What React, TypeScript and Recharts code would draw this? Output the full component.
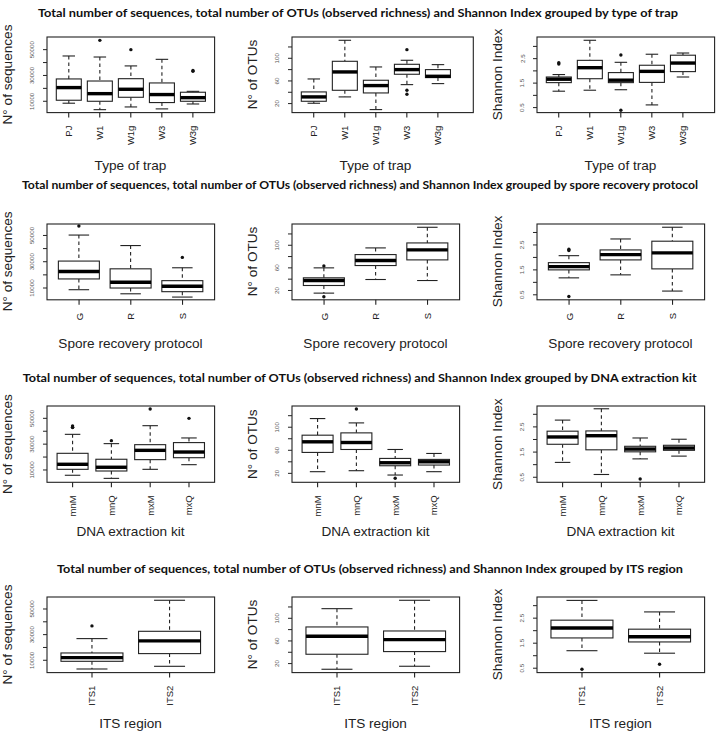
import React from "react";
import { ComposedChart, Bar, XAxis, YAxis } from "recharts";

// ---------- categories ----------
const trapCats = ["PJ", "W1", "W1g", "W3", "W3g"];
const protoCats = ["G", "R", "S"];
const kitCats = ["mnM", "mnQ", "mxM", "mxQ"];
const itsCats = ["ITS1", "ITS2"];

// ---------- stats: [lowWhisker, Q1, median, Q3, highWhisker] ----------
const trapSeq = [
  [8500, 10800, 20600, 27300, 45100],
  [3500, 10000, 15900, 25700, 44300],
  [5600, 13100, 19300, 27500, 37400],
  [4100, 9000, 15200, 24200, 42500],
  [7900, 10000, 12800, 17000, 17700],
];
const trapSeqOut = [[], [57200], [50000], [], [33200, 33800]];

const trapOtu = [
  [20.6, 24.1, 31.8, 40.6, 63.5],
  [31.8, 43.5, 75.9, 94.7, 131.8],
  [9.4, 38.8, 51.8, 61.2, 84.7],
  [53.5, 71.8, 80, 89.4, 96.5],
  [55.3, 65.9, 68.2, 80, 88.8],
];
const trapOtuOut = [[], [], [], [115.3, 43.5, 36.5], []];

const trapSh = [
  [1.17, 1.52, 1.66, 1.75, 1.85],
  [1.21, 1.68, 2.13, 2.43, 3.25],
  [1.23, 1.52, 1.62, 1.93, 2.35],
  [0.61, 1.53, 1.98, 2.23, 2.68],
  [1.75, 1.97, 2.32, 2.64, 2.73],
];
const trapShOut = [[2.28, 2.33], [], [2.65, 0.39], [], []];

const protoSeq = [
  [8700, 16900, 22600, 30500, 50300],
  [5600, 10000, 14400, 24600, 42300],
  [3100, 7200, 11300, 15600, 25400],
];
const protoSeqOut = [[57200], [], [33300]];

const protoOtu = [
  [15.3, 28.8, 37.6, 42.4, 60],
  [39.4, 64.1, 72.9, 83.5, 95.3],
  [37.6, 74.1, 91.8, 104.1, 131.8],
];
const protoOtuOut = [[63.5, 8.8], [], []];

const protoSh = [
  [1.18, 1.5, 1.63, 1.79, 2.07],
  [1.3, 1.9, 2.11, 2.3, 2.74],
  [0.65, 1.54, 2.18, 2.65, 3.21],
];
const protoShOut = [[2.28, 2.33, 0.43], [], []];

const kitSeq = [
  [5900, 10500, 14400, 22900, 37600],
  [3500, 9200, 12100, 18300, 30400],
  [10500, 18000, 25200, 29600, 44300],
  [14100, 19500, 23900, 31200, 34800],
];
const kitSeqOut = [[44100, 43000, 42800], [32700], [57200], [50000]];

const kitOtu = [
  [22.9, 56.3, 74.7, 86.2, 115],
  [24.6, 61.4, 73.5, 90.2, 107.5],
  [17.1, 33.2, 38.4, 45.9, 61.4],
  [22.9, 34.4, 40.1, 44.2, 54.5],
];
const kitOtuOut = [[], [131.7], [11.4], []];

const kitSh = [
  [1.09, 1.81, 2.1, 2.33, 2.77],
  [0.61, 1.59, 2.15, 2.34, 3.22],
  [1.23, 1.51, 1.62, 1.73, 2.06],
  [1.34, 1.57, 1.66, 1.77, 2.01],
];
const kitShOut = [[], [], [0.43], []];

const itsSeq = [
  [3200, 9200, 12100, 15700, 26900],
  [5300, 15200, 25100, 32600, 56800],
];
const itsSeqOut = [[36800], []];

const itsOtu = [
  [10, 36.5, 68.2, 84.7, 117],
  [15.3, 41.2, 62.4, 77.6, 131.8],
];
const itsOtuOut = [[], []];

const itsSh = [
  [1.2, 1.71, 2.11, 2.42, 3.21],
  [1.1, 1.55, 1.76, 2.06, 2.75],
];
const itsShOut = [[0.46], [0.66]];

// ---------- ticks ----------
const seqTicks = [10000, 20000, 30000, 40000, 50000];
const seqLabels = [10000, 30000, 50000];
const otuTicks = [20, 40, 60, 80, 100, 120];
const otuLabels = [20, 60, 100];
const shTicks = [0.5, 1, 1.5, 2, 2.5, 3];
const shLabels = [0.5, 1.5, 2.5];

// ---------- text ----------
const titleBase =
  "Total number of sequences, total number of OTUs (observed richness) and Shannon Index grouped by ";
const rowTitles = ["type of trap", "spore recovery protocol", "DNA extraction kit", "ITS region"];
const rowXLabels = ["Type of trap", "Spore recovery protocol", "DNA extraction kit", "ITS region"];
const colYLabels = ["N° of sequences", "N° of OTUs", "Shannon Index"];

// ---------- layout ----------
const COLS = [
  [46.7, 214.3],
  [291.7, 459.3],
  [536.7, 704.3],
];
const ROWS = [
  [36.7, 112.3],
  [223.5, 299.3],
  [406, 482.3],
  [596.7, 672.3],
];
const TITLE_Y = [12, 184, 377, 568];
const TITLE_X = [
  [38, 678],
  [22, 698],
  [22.7, 696.7],
  [57, 683],
];
const XLAB_Y = [165, 343, 531, 723];
const FONT = "'Liberation Sans', Arial, Helvetica, sans-serif";
const INK = "#222";
const FRAME = "#222";

type PanelCfg = {
  row: number;
  col: number;
  cats: string[];
  stats: number[][];
  outs: number[][];
  domain: [number, number];
  ticks: number[];
  labels: number[];
  extraRight?: number;
};

const panels: PanelCfg[] = [
  { row: 0, col: 0, cats: trapCats, stats: trapSeq, outs: trapSeqOut, domain: [1226, 59806], ticks: seqTicks, labels: seqLabels },
  { row: 0, col: 1, cats: trapCats, stats: trapOtu, outs: trapOtuOut, domain: [4.1, 137.6], ticks: otuTicks, labels: otuLabels, extraRight: 13.7 },
  { row: 0, col: 2, cats: trapCats, stats: trapSh, outs: trapShOut, domain: [0.296, 3.384], ticks: shTicks, labels: shLabels, extraRight: 10 },
  { row: 1, col: 0, cats: protoCats, stats: protoSeq, outs: protoSeqOut, domain: [1026, 58718], ticks: seqTicks, labels: seqLabels },
  { row: 1, col: 1, cats: protoCats, stats: protoOtu, outs: protoOtuOut, domain: [3.5, 137.6], ticks: otuTicks, labels: otuLabels },
  { row: 1, col: 2, cats: protoCats, stats: protoSh, outs: protoShOut, domain: [0.3, 3.34], ticks: shTicks, labels: shLabels },
  { row: 2, col: 0, cats: kitCats, stats: kitSeq, outs: kitSeqOut, domain: [452, 59548], ticks: seqTicks, labels: seqLabels },
  { row: 2, col: 1, cats: kitCats, stats: kitOtu, outs: kitOtuOut, domain: [4.5, 136.8], ticks: otuTicks, labels: otuLabels },
  { row: 2, col: 2, cats: kitCats, stats: kitSh, outs: kitShOut, domain: [0.3, 3.33], ticks: shTicks, labels: shLabels },
  { row: 3, col: 0, cats: itsCats, stats: itsSeq, outs: itsSeqOut, domain: [390, 59351], ticks: seqTicks, labels: seqLabels },
  { row: 3, col: 1, cats: itsCats, stats: itsOtu, outs: itsOtuOut, domain: [4.1, 137.6], ticks: otuTicks, labels: otuLabels },
  { row: 3, col: 2, cats: itsCats, stats: itsSh, outs: itsShOut, domain: [0.325, 3.346], ticks: shTicks, labels: shLabels },
];

// One box-and-whisker glyph, positioned by the bar's own scaled geometry
const BoxShape = (props: any) => {
  const { x, y, width, height, payload } = props;
  if (!payload || !isFinite(y) || !isFinite(height)) return null;
  const [lo, q1, med, q3, hi] = payload.s as number[];
  const k = height / (hi - lo);
  const Y = (v: number) => y + (hi - v) * k;
  const cx = x + width / 2;
  const sw = width * 0.25;
  const st = { stroke: INK, strokeWidth: 1.1 };
  return (
    <g>
      <line x1={cx} x2={cx} y1={Y(hi)} y2={Y(q3)} {...st} strokeDasharray="3.5 3" />
      <line x1={cx} x2={cx} y1={Y(q1)} y2={Y(lo)} {...st} strokeDasharray="3.5 3" />
      <line x1={cx - sw} x2={cx + sw} y1={Y(hi)} y2={Y(hi)} {...st} />
      <line x1={cx - sw} x2={cx + sw} y1={Y(lo)} y2={Y(lo)} {...st} />
      <rect x={x} y={Y(q3)} width={width} height={Y(q1) - Y(q3)} fill="#fff" {...st} />
      <line x1={x} x2={x + width} y1={Y(med)} y2={Y(med)} stroke="#000" strokeWidth={3.4} />
      {(payload.out as number[]).map((v, i) => (
        <circle key={i} cx={cx} cy={Y(v)} r={1.7} fill="#111" />
      ))}
    </g>
  );
};

const ML = 44;
const MT = 4;
const MR = 4;
const MB = 52;

function BoxPanel({ cfg }: { cfg: PanelCfg }) {
  const [x0, x1std] = COLS[cfg.col];
  const [y0, y1] = ROWS[cfg.row];
  const extra = cfg.extraRight ?? 0;
  const plotW = x1std - x0 + extra;
  const plotH = y1 - y0;
  const pad = (x1std - x0) * 0.037;
  const data = cfg.cats.map((c, i) => ({
    cat: c,
    range: [cfg.stats[i][0], cfg.stats[i][4]],
    s: cfg.stats[i],
    out: cfg.outs[i],
  }));
  const bottom = MT + plotH;
  const W = ML + plotW + MR;
  const H = MT + plotH + MB;
  return (
    <div style={{ position: "absolute", left: x0 - ML, top: y0 - MT, width: W, height: H }}>
      <ComposedChart
        width={W}
        height={H}
        data={data}
        margin={{ top: MT, right: MR, bottom: 0, left: 0 }}
        barCategoryGap="10%"
      >
        <XAxis
          dataKey="cat"
          type="category"
          padding={{ left: pad, right: pad + extra }}
          height={MB}
          interval={0}
          axisLine={false}
          tickLine={false}
          tick={(p: any) => (
            <g>
              <path d={`M${p.x},${bottom}L${p.x},${bottom + 5}`} stroke={FRAME} strokeWidth={1.1} fill="none" />
              <text
                x={p.x}
                y={bottom + 13}
                transform={`rotate(-90 ${p.x} ${bottom + 13})`}
                textAnchor="end"
                dominantBaseline="central"
                fontSize={9.5}
                fontFamily={FONT}
                fill={INK}
              >
                {p.payload.value}
              </text>
            </g>
          )}
        />
        <YAxis
          type="number"
          domain={cfg.domain}
          ticks={cfg.ticks}
          interval={0}
          width={ML}
          axisLine={false}
          tickLine={false}
          tick={(p: any) => (
            <g>
              <path d={`M${ML - 4},${p.y}L${ML},${p.y}`} stroke={FRAME} strokeWidth={1} fill="none" />
              {cfg.labels.includes(p.payload.value) ? (
                <text
                  x={ML - 15}
                  y={p.y}
                  transform={`rotate(-90 ${ML - 15} ${p.y})`}
                  textAnchor="middle"
                  dominantBaseline="central"
                  fontSize={6.2}
                  fontFamily={FONT}
                  fill="#555"
                >
                  {p.payload.value}
                </text>
              ) : null}
            </g>
          )}
        />
        <Bar dataKey="range" isAnimationActive={false} shape={<BoxShape />} />
      </ComposedChart>
      {/* plot-region frame, same rectangle as the chart's plot area */}
      <svg width={W} height={H} style={{ position: "absolute", left: 0, top: 0, pointerEvents: "none" }}>
        <rect x={ML} y={MT} width={plotW} height={plotH} fill="none" stroke={FRAME} strokeWidth={1.1} />
      </svg>
    </div>
  );
}

export default function App() {
  return (
    <div
      style={{
        position: "absolute",
        left: 0,
        top: 0,
        width: 720,
        height: 732,
        background: "#fff",
        overflow: "hidden",
      }}
    >
      {panels.map((p, i) => (
        <BoxPanel key={i} cfg={p} />
      ))}
      <svg width={720} height={732} style={{ position: "absolute", left: 0, top: 0, pointerEvents: "none" }}>
        {rowTitles.map((t, r) => (
          <text
            key={"t" + r}
            x={TITLE_X[r][0]}
            y={TITLE_Y[r]}
            textLength={TITLE_X[r][1] - TITLE_X[r][0]}
            lengthAdjust="spacingAndGlyphs"
            dominantBaseline="central"
            fontSize={11.5}
            fontWeight={700}
            fontFamily="Lato, 'Open Sans', sans-serif"
            fill="#111"
          >
            {titleBase + t}
          </text>
        ))}
        {ROWS.map((ry, r) =>
          COLS.map((cx, c) => {
            const yl = colYLabels[c];
            const ymid = (ry[0] + ry[1]) / 2;
            const xl = cx[0] - 39.5;
            return (
              <g key={"a" + r + c}>
                <text
                  x={xl}
                  y={ymid}
                  transform={`rotate(-90 ${xl} ${ymid})`}
                  textAnchor="middle"
                  dominantBaseline="central"
                  fontSize={13.6}
                  fontFamily={FONT}
                  fill={INK}
                >
                  {yl}
                </text>
                <text
                  x={(cx[0] + cx[1]) / 2}
                  y={XLAB_Y[r]}
                  textAnchor="middle"
                  dominantBaseline="central"
                  fontSize={13.6}
                  fontFamily={FONT}
                  fill={INK}
                >
                  {rowXLabels[r]}
                </text>
              </g>
            );
          })
        )}
      </svg>
    </div>
  );
}
